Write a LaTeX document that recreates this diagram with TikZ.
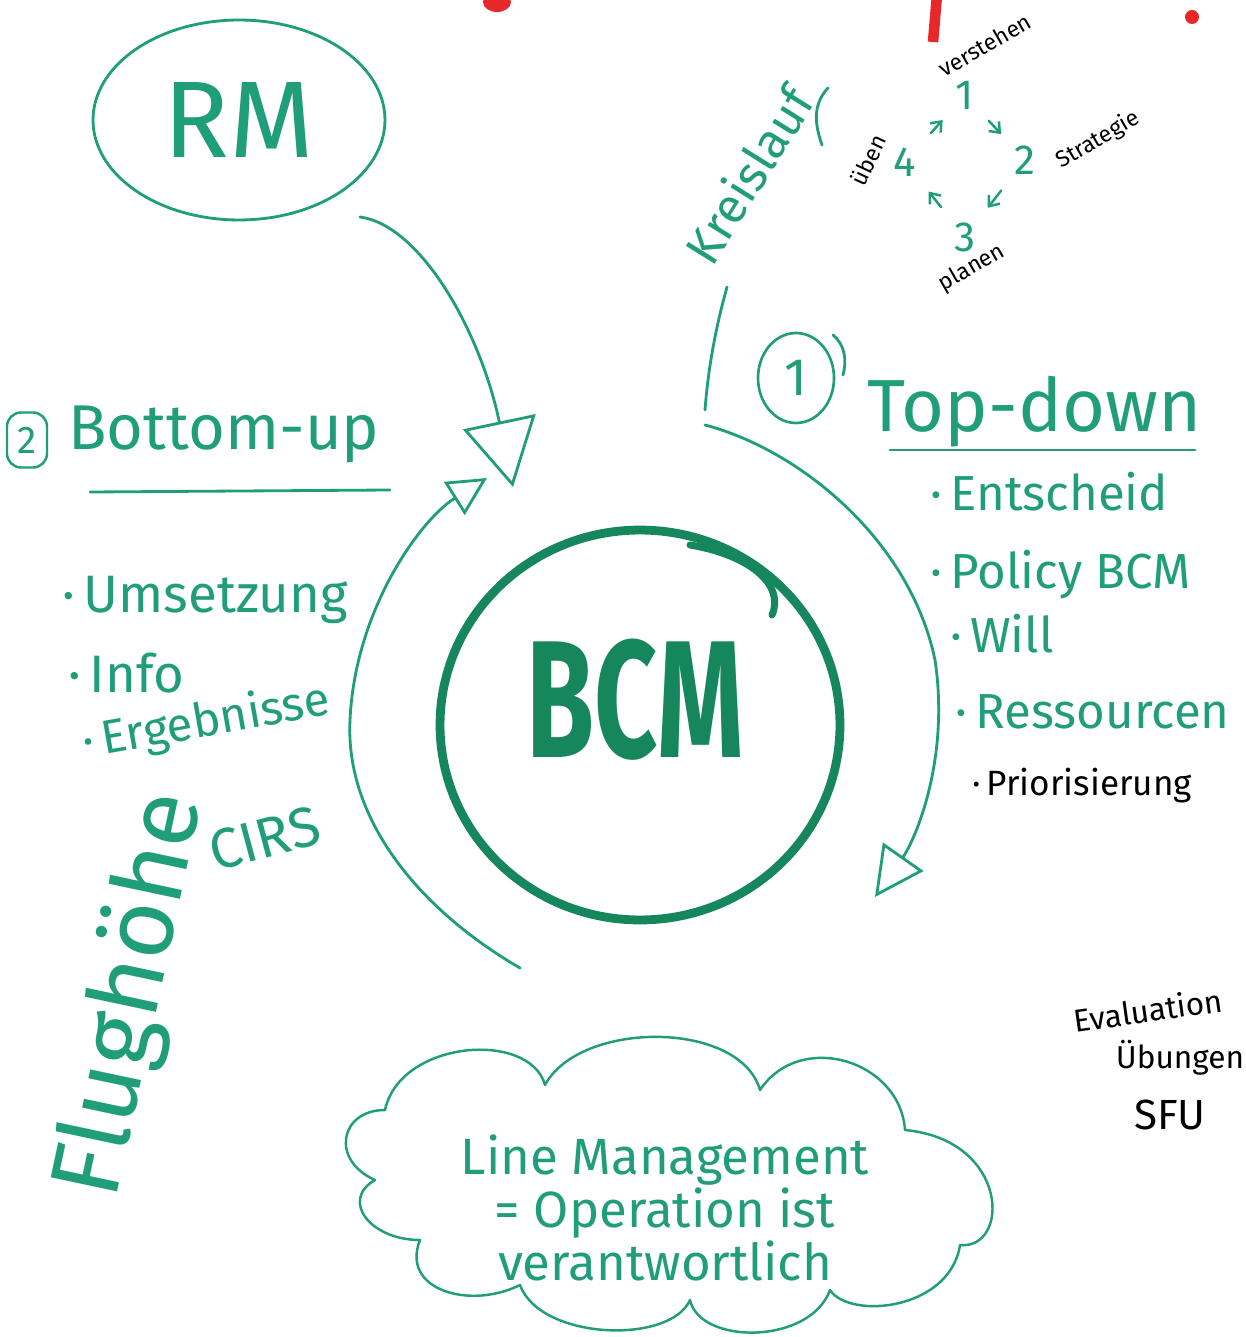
\documentclass[tikz,border=0pt]{standalone}
\usepackage{fontspec}
\usepackage{graphicx}
\setmainfont{Fira Sans}
\usetikzlibrary{arrows.meta,shapes.geometric}
\definecolor{mgreen}{RGB}{32,158,122}
\definecolor{dgreen}{RGB}{22,135,92}
\definecolor{mred}{RGB}{232,40,40}
\newcommand{\fsz}[1]{\fontsize{#1}{#1}\selectfont}
\begin{document}
\begin{tikzpicture}[x=0.02cm,y=-0.02cm,
  pen/.style={draw=mgreen,line width=1.6pt,line cap=round,line join=round},
  gtext/.style={text=mgreen,inner sep=0pt},
  ktext/.style={text=black,inner sep=0pt},
  cyc/.style={draw=mgreen,line width=1.4pt,line cap=round,-{Straight Barb[length=5pt,width=8pt]},shorten <=12pt,shorten >=11pt}]
\useasboundingbox (0,0) rectangle (1245,1337);
\fill[white] (0,0) rectangle (1245,1337);

% red marks at top
\fill[mred] (497,2) ellipse [x radius=14, y radius=10];
\draw[mred,line width=6pt] (937,-5) -- (933,42);
\fill[mred] (1192,17) circle [radius=7];

% RM
\node[ellipse,draw=mgreen,line width=1.6pt,minimum width=5.84cm,minimum height=4cm,inner sep=0pt,text=mgreen,font=\fsz{62}] (rm) at (239,120) {RM};

% BCM
\node[ellipse,draw=dgreen,line width=5pt,minimum width=8cm,minimum height=7.8cm] (bcm) at (640,725) {};
\node[text=dgreen,inner sep=0pt,font=\fsz{95}\bfseries] (bcmtext) at (635,700) {\scalebox{0.66}[1]{BCM}};
\draw[dgreen,line width=4pt,line cap=round] (690,545) .. controls (750,555) and (785,585) .. (772,615);

% RM arrow
\coordinate (rmstart) at (360,217);
\coordinate (rmtip) at (513,487);
\draw[pen,-{Triangle[open,length=38pt,width=42pt]}] (rmstart) .. controls (420,225) and (480,330) .. (rmtip);

% left arc (bottom-up)
\coordinate (lstart) at (520,968);
\coordinate (ltip) at (487,478);
\draw[pen,-{Triangle[open,length=22pt,width=22pt]}] (lstart) .. controls (420,910) and (345,820) .. (350,720) .. controls (355,610) and (420,520) .. (ltip);

% right arc (top-down)
\coordinate (vtop) at (727,287);
\coordinate (vbot) at (705,410);
\draw[pen] (vtop) .. controls (715,330) and (708,370) .. (vbot);
\coordinate (rstart) at (705,425);
\coordinate (rtip) at (875,897);
\draw[pen,-{Triangle[open,length=28pt,width=28pt]}] (rstart) .. controls (800,450) and (910,540) .. (935,660) .. controls (950,760) and (915,840) .. (rtip);

% Bottom-up
\node[draw=mgreen,line width=1.4pt,rounded corners=8pt,minimum width=0.8cm,minimum height=1.1cm,inner sep=0pt,text=mgreen,font=\fsz{22}] (two) at (27,440) {2};
\node[gtext,font=\fsz{36},anchor=base west] (bu) at (68,450) {Bottom-up};
\draw[pen] (90,492) -- (390,490);
\node[gtext,font=\fsz{30},anchor=base west] (b1) at (62,612) {·\,Umsetzung};
\node[gtext,font=\fsz{30},anchor=base west] (b2) at (68,692) {·\,Info};
\node[gtext,font=\fsz{27},anchor=base west,rotate=10] (b3) at (85,758) {·\,Ergebnisse};
\node[gtext,font=\fsz{32},anchor=base west,rotate=15] (cirs) at (215,872) {CIRS};
\node[gtext,font=\fsz{56},rotate=78] (flug) at (132,995) {Flughöhe};

% Top-down
\node[ellipse,draw=mgreen,line width=1.5pt,minimum width=1.52cm,minimum height=1.8cm,inner sep=0pt,text=mgreen,font=\fsz{30}] (one) at (796,378) {1};
\draw[pen] (833,335) .. controls (845,345) and (847,360) .. (843,375);
\node[gtext,font=\fsz{42},anchor=base west] (td) at (867,432) {Top-down};
\draw[pen] (890,450) -- (1195,450);
\node[gtext,font=\fsz{28},anchor=base west] (t1) at (930,510) {·\,Entscheid};
\node[gtext,font=\fsz{28},anchor=base west] (t2) at (930,588) {·\,Policy BCM};
\node[gtext,font=\fsz{28},anchor=base west] (t3) at (950,652) {·\,Will};
\node[gtext,font=\fsz{28},anchor=base west] (t4) at (955,728) {·\,Ressourcen};
\node[ktext,font=\fsz{20},anchor=base west] (t5) at (972,795) {·\,Priorisierung};

% cycle
\node[gtext,font=\fsz{28},rotate=58] (kreis) at (748,175) {Kreislauf};
\draw[pen] (828,88) .. controls (812,105) and (815,125) .. (822,145);
\node[gtext,font=\fsz{24}] (n1) at (965,95) {1};
\node[gtext,font=\fsz{24}] (n2) at (1025,160) {2};
\node[gtext,font=\fsz{24}] (n3) at (965,237) {3};
\node[gtext,font=\fsz{24}] (n4) at (905,162) {4};
\node[ktext,font=\fsz{13},rotate=30] (l1) at (985,45) {verstehen};
\node[ktext,font=\fsz{13},rotate=30] (l2) at (1098,140) {Strategie};
\node[ktext,font=\fsz{13},rotate=30] (l3) at (972,268) {planen};
\node[ktext,font=\fsz{13},rotate=65] (l4) at (868,160) {üben};
\draw[cyc] (n4) -- (n1);
\draw[cyc] (n1) -- (n2);
\draw[cyc] (n2) -- (n3);
\draw[cyc] (n3) -- (n4);

% cloud
\draw[pen,line width=1.4pt] (385,1110) .. controls (400,1040) and (530,1030) .. (545,1085)
  .. controls (580,1020) and (740,1020) .. (760,1090)
  .. controls (800,1030) and (900,1060) .. (905,1130)
  .. controls (1010,1140) and (1010,1250) .. (960,1245)
  .. controls (950,1310) and (850,1320) .. (830,1290)
  .. controls (810,1345) and (700,1345) .. (690,1300)
  .. controls (670,1345) and (540,1340) .. (520,1285)
  .. controls (470,1310) and (400,1290) .. (420,1240)
  .. controls (370,1240) and (340,1200) .. (375,1180)
  .. controls (330,1160) and (340,1110) .. cycle;
\node[gtext,font=\fsz{29},align=center] (lm) at (665,1208) {Line Management\\[1pt]= Operation ist\\[1pt]verantwortlich};

% bottom right
\node[ktext,font=\fsz{18},rotate=8] (ev) at (1148,1010) {Evaluation};
\node[ktext,font=\fsz{18}] (ub) at (1180,1058) {Übungen};
\node[ktext,font=\fsz{24}] (sfu) at (1170,1115) {SFU};
\end{tikzpicture}
\end{document}
